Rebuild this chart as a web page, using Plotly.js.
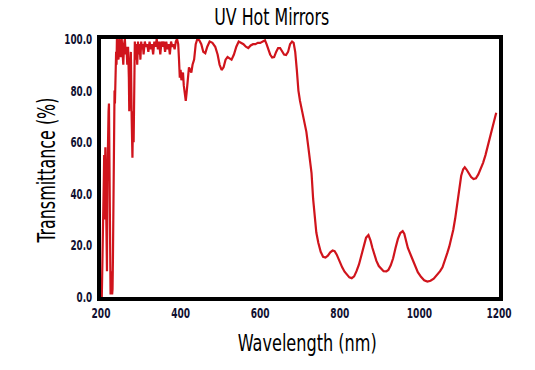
<!DOCTYPE html>
<html>
<head>
<meta charset="utf-8">
<script src="https://cdn.plot.ly/plotly-3.0.1.min.js"></script>
<style>html,body{margin:0;padding:0;background:#fff;}#chart{width:535px;height:370px;}</style>
</head>
<body>
<div id="chart"></div>
<script>
const wavelength = [202,205,207,208,209,210,211,212,213,214,215,216,217,218,219,220,221,222,223,224,225,226,227,228,229,230,231,232,233,234,235,236,237,238,239,240,242,244,246,248,250,252,254,256,258,260,262,264,266,268,270,271,272,273,275,277,278,279,280,281,282,283,285,287,289,291,293,295,297,299,301,303,305,307,310,313,316,319,322,325,328,331,334,337,340,343,346,349,352,355,358,361,364,367,370,373,376,379,382,385,388,391,394,396,398,400,402,404,406,408,411,413,415,418,421,424,427,430,434,438,442,447,452,457,462,467,473,480,487,493,498,503,508,513,518,523,528,534,540,546,552,558,564,570,576,582,588,594,600,606,612,616,620,625,630,635,640,645,650,655,660,665,670,675,680,684,688,692,696,700,704,707,711,716,721,725,729,733,737,741,746,752,758,764,770,776,782,787,792,796,800,806,812,818,824,830,836,842,848,854,860,866,872,877,882,887,892,898,904,910,917,922,928,934,940,946,952,958,962,966,971,979,988,996,1004,1012,1020,1028,1036,1045,1052,1058,1064,1070,1075,1080,1085,1090,1095,1100,1105,1110,1114,1118,1124,1130,1136,1142,1148,1154,1160,1166,1172,1178,1184,1190,1193];
const transmittance = [0,20,45,55,30,50,58,40,55,30,10,45,60,68,72,75,60,30,8,1,2,10,5,1,3,15,40,30,60,80,75,88,92,95,90,100,98,92,100,96,93,100,95,90,98,100,94,97,90,97,85,72,78,88,95,70,60,54,65,72,60,80,99,92,98,90,99,94,98,92,99,96,98,94,99,97,98,95,99,96,98,94,99,97,100,96,99,94,99,97,99,95,99,96,98,94,99,97,98,96,99,100,98,92,85,88,84,86,87,82,77,76,79,86,89,88,87,90,92,98,100,99.5,98,95,94.5,97,99,98.5,97,94,90,88,89,92,93,92.5,92,94,97,99,98.5,98,97,96.5,97.5,98,98,98.5,98.5,99,99.5,98,96,94,92.8,93,95,96.5,96.5,95,94,93.8,95,98,99,98.5,95,88,80,76,73,71,68,64,58,53,48,38,31,25,21,17.5,15.6,15.3,16,17.3,18,17.8,16.5,15,14,11.5,9.8,8.5,7.6,7.3,8,10,12.5,16,19.5,23,24,22,19,16,14,12,10.8,10,9.9,10.5,12.3,15,19,22.5,24.8,25.5,24.5,22,19,16,12.5,9.6,7.8,6.5,6,6.3,7.1,8.5,10,11.5,14,17,19.5,22.5,26,30.5,36,42,47,49.5,50.3,49.5,48,46.5,45.7,46,47.5,49.5,52,55,58.5,62,66,70,71.4];
const xTicks = [200,400,600,800,1000,1200];
const yTicks = [0,20,40,60,80,100];
const chartTitle = "UV Hot Mirrors";
const xTitle = "Wavelength (nm)";
const yTitle = "Transmittance (%)";

const font = "DejaVu Sans Condensed, DejaVu Sans, sans-serif";
const trace = {
  x: wavelength, y: transmittance, type: 'scatter', mode: 'lines',
  line: {color: '#d0141c', width: 2.2}, hoverinfo: 'skip'
};
const layout = {
  width: 535, height: 370,
  margin: {l: 101, r: 36, t: 39, b: 73},
  paper_bgcolor: '#ffffff', plot_bgcolor: '#ffffff',
  showlegend: false,
  title: {text: chartTitle, x: 0.508, xanchor: 'center', y: 0.955, yanchor: 'middle',
          font: {family: font, size: 23, color: '#000000'}},
  xaxis: {
    range: [200, 1200], tickvals: xTicks, ticktext: xTicks.map(String),
    showgrid: false, zeroline: false, ticks: '',
    showline: true, mirror: true, linecolor: '#000000', linewidth: 4,
    tickfont: {family: font, size: 14, color: '#101030', weight: 'bold'}
  },
  yaxis: {
    range: [0, 100], tickvals: yTicks, ticktext: yTicks.map(v => v.toFixed(1)),
    showgrid: false, zeroline: false, ticks: '', ticklabelstandoff: 2,
    showline: true, mirror: true, linecolor: '#000000', linewidth: 4,
    tickfont: {family: font, size: 14, color: '#101030', weight: 'bold'}
  },
  annotations: [
    {text: xTitle, xref: 'paper', yref: 'paper', x: 0.518, y: -0.178,
     xanchor: 'center', yanchor: 'middle', showarrow: false,
     font: {family: font, size: 23, color: '#000000'}},
    {text: yTitle, xref: 'paper', yref: 'paper', x: -0.1357, y: 0.49, textangle: -90,
     xanchor: 'center', yanchor: 'middle', showarrow: false,
     font: {family: font, size: 24, color: '#000000'}}
  ]
};
function fitTo(el, len) {
  el.setAttribute('textLength', len.toFixed(1));
  el.setAttribute('lengthAdjust', 'spacingAndGlyphs');
}
function squeeze(sel, f) {
  document.querySelectorAll(sel).forEach(el => fitTo(el, el.getComputedTextLength() * f));
}
Plotly.newPlot('chart', [trace], layout, {displayModeBar: false, staticPlot: true}).then(() => {
  const t = document.querySelector('.gtitle');
  if (t) fitTo(t, 115);
  squeeze('.xtick text', 0.72);
  squeeze('.ytick text', 0.7);
  const ann = document.querySelectorAll('.annotation-text');
  if (ann[0]) fitTo(ann[0], 139);
  if (ann[1]) fitTo(ann[1], 145);
});
</script>
</body>
</html>
